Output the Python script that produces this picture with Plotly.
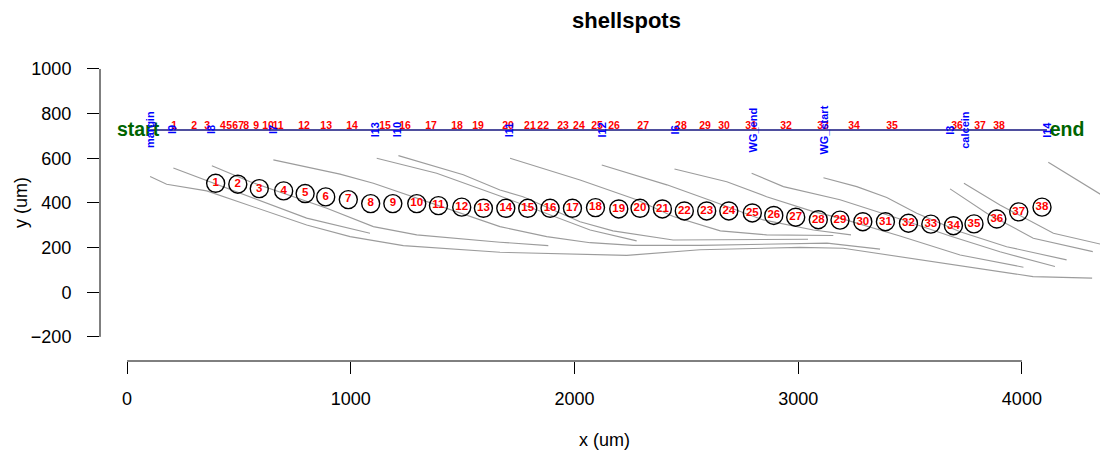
import plotly.graph_objects as go

FONT = "Liberation Sans, Arial, Helvetica, sans-serif"

# ---------------- axes ----------------
x_ticks = [0, 1000, 2000, 3000, 4000]
y_ticks = [-200, 0, 200, 400, 600, 800, 1000]
x_range = [-121, 4385]
y_range = [-308, 1085]

# ---------------- reference line (start -> end) ----------------
ref_line_y = 727
spot_label_y = 745
end_labels = ["start", "end"]
end_x = [49, 4202]
end_y = [722, 722]

# named marks on the reference line
mark_names = ["margin", "l9", "l8", "l7", "l13", "l10", "l11", "l12", "l6",
              "WG_end", "WG_start", "l3", "calcein", "l14"]
mark_x = [103, 201, 376, 653, 1110, 1208, 1709, 2121, 2447,
          2796, 3114, 3678, 3745, 4112]

# ---------------- spots ----------------
spot_ids = ["1", "2", "3", "4", "5", "6", "7", "8", "9", "10",
            "11", "12", "13", "14", "15", "16", "17", "18", "19", "20",
            "21", "22", "23", "24", "25", "26", "27", "28", "29", "30",
            "31", "32", "33", "34", "35", "36", "37", "38"]
spot_x = [396, 495, 591, 700, 796, 888, 989, 1089, 1188, 1295,
          1392, 1496, 1593, 1693, 1791, 1891, 1991, 2094, 2198, 2293,
          2393, 2491, 2591, 2690, 2795, 2891, 2989, 3090, 3187, 3289,
          3390, 3493, 3593, 3694, 3786, 3888, 3986, 4090]
spot_y = [488, 484, 464, 454, 442, 427, 415, 397, 397, 397,
          388, 381, 376, 376, 376, 376, 376, 379, 373, 376,
          373, 364, 364, 364, 355, 344, 336, 325, 323, 316,
          316, 309, 305, 298, 306, 328, 360, 381]
# spot positions projected on the reference line
spot_proj_x = [210, 300, 358, 429, 456, 483, 510, 532, 577, 630,
               675, 791, 890, 1006, 1153, 1243, 1359, 1475, 1569, 1703,
               1801, 1860, 1949, 2020, 2101, 2177, 2307, 2476, 2584, 2669,
               2789, 2946, 3111, 3250, 3420, 3710, 3813, 3898]

# ---------------- growth lines ----------------
gl_margin_x = [103, 177, 356, 624, 803, 997, 1235, 1667, 2234, 2561, 3008, 3201, 4050, 4314]
gl_margin_y = [518, 484, 454, 361, 301, 249, 209, 179, 165, 190, 201, 197, 70, 63]
gl_l9_x = [207, 653, 803, 1086]
gl_l9_y = [556, 391, 332, 264]
gl_l8_x = [379, 550, 893, 1101, 1295, 1667, 1883]
gl_l8_y = [567, 495, 376, 294, 257, 224, 209]
gl_l7_x = [654, 952, 1101, 1295, 1667, 1876, 2070, 2262, 2561, 3129, 3366]
gl_l7_y = [593, 529, 488, 421, 294, 249, 222, 210, 210, 220, 193]
gl_l13_x = [1116, 1384, 1667, 2070, 2278]
gl_l13_y = [600, 533, 431, 279, 230]
gl_l10_x = [1213, 1503, 1667, 1770, 2025, 2172, 2441, 3044]
gl_l10_y = [612, 526, 458, 428, 316, 275, 234, 237]
gl_l11_x = [1712, 2025, 2278, 2442, 2652, 2859, 3157]
gl_l11_y = [600, 503, 414, 339, 275, 257, 254]
gl_l12_x = [2122, 2413, 2621, 2844, 3068, 3236]
gl_l12_y = [570, 481, 406, 324, 279, 257]
gl_l6_x = [2447, 2681, 2859, 3068, 3187, 3455, 3724, 4007]
gl_l6_y = [552, 495, 428, 361, 332, 252, 167, 112]
gl_wgend_x = [2792, 2934, 3187, 3455, 3679, 3902, 4148]
gl_wgend_y = [533, 473, 414, 328, 252, 181, 115]
gl_wgstart_x = [3113, 3262, 3396, 3530, 3724, 3932, 4200]
gl_wgstart_y = [513, 473, 424, 354, 271, 204, 145]
gl_l3_x = [3679, 3843, 4051, 4317]
gl_l3_y = [463, 354, 242, 182]
gl_calcein_x = [3741, 3902, 4141, 4379]
gl_calcein_y = [488, 391, 264, 209]
gl_l14_x = [4118, 4379, 4483]
gl_l14_y = [582, 421, 358]

growth_lines = [
    (gl_margin_x, gl_margin_y), (gl_l9_x, gl_l9_y), (gl_l8_x, gl_l8_y),
    (gl_l7_x, gl_l7_y), (gl_l13_x, gl_l13_y), (gl_l10_x, gl_l10_y),
    (gl_l11_x, gl_l11_y), (gl_l12_x, gl_l12_y), (gl_l6_x, gl_l6_y),
    (gl_wgend_x, gl_wgend_y), (gl_wgstart_x, gl_wgstart_y),
    (gl_l3_x, gl_l3_y), (gl_calcein_x, gl_calcein_y), (gl_l14_x, gl_l14_y),
]

# figure size chosen to sit inside the page's default 8px body margin
FIG_W, FIG_H = 1100, 449

fig = go.Figure()

for gx, gy in growth_lines:
    fig.add_trace(go.Scatter(x=gx, y=gy, mode="lines",
                             line=dict(color="#9c9c9c", width=1.1),
                             hoverinfo="skip"))

# reference line
fig.add_trace(go.Scatter(x=[mark_x[0], mark_x[-1]], y=[ref_line_y, ref_line_y],
                         mode="lines", line=dict(color="#14147e", width=1.4),
                         hoverinfo="skip"))

# spot numbers along the reference line
fig.add_trace(go.Scatter(x=spot_proj_x, y=[spot_label_y] * len(spot_proj_x),
                         mode="text", text=spot_ids,
                         textfont=dict(family=FONT, size=10.5, color="red", weight="bold"),
                         textposition="middle center", hoverinfo="skip"))

# spots (open circles with numbers)
fig.add_trace(go.Scatter(x=spot_x, y=spot_y, mode="markers+text", text=spot_ids,
                         marker=dict(symbol="circle-open", size=18, color="black",
                                     line=dict(width=1.4)),
                         textfont=dict(family=FONT, size=11.5, color="red", weight="bold"),
                         textposition="middle center", hoverinfo="skip"))

# start / end labels
fig.add_trace(go.Scatter(x=end_x, y=end_y, mode="text", text=end_labels,
                         textfont=dict(family=FONT, size=19.5, color="#006400", weight="bold"),
                         textposition="middle center", hoverinfo="skip"))

annotations = []
for name, mx in zip(mark_names, mark_x):
    annotations.append(dict(x=mx, y=ref_line_y, xref="x", yref="y", text=name,
                            showarrow=False, textangle=-90,
                            font=dict(family=FONT, size=11, color="blue", weight="bold"),
                            xanchor="center", yanchor="middle"))

# axis titles
annotations.append(dict(x=0.5, y=0, xref="paper", yref="paper", text="x (um)",
                        showarrow=False, yshift=-79, yanchor="middle", xanchor="center",
                        font=dict(family=FONT, size=18, color="black")))
annotations.append(dict(x=0, y=(y_ticks[0] + y_ticks[-1]) / 2, xref="paper", yref="y",
                        text="y (um)", showarrow=False, textangle=-90, xshift=-79,
                        xanchor="center", yanchor="middle",
                        font=dict(family=FONT, size=18, color="black")))

shapes = [
    dict(type="line", xref="x", yref="paper", x0=x_ticks[0], x1=x_ticks[-1], y0=0, y1=0,
         line=dict(color="black", width=1)),
    dict(type="line", xref="paper", yref="y", x0=0, x1=0, y0=y_ticks[0], y1=y_ticks[-1],
         line=dict(color="black", width=1)),
]

fig.update_layout(
    width=FIG_W, height=FIG_H,
    margin=dict(l=92, r=0, t=42, b=96),
    plot_bgcolor="white", paper_bgcolor="white",
    showlegend=False,
    title=dict(text="<b>shellspots</b>", x=618.5 / FIG_W, xref="container", xanchor="center",
               y=1 - 12 / FIG_H, yref="container", yanchor="middle",
               font=dict(family=FONT, size=22, color="black")),
    xaxis=dict(range=x_range, tickvals=x_ticks, ticktext=[str(v) for v in x_ticks],
               ticks="outside", ticklen=12, tickwidth=1, tickcolor="black",
               showgrid=False, zeroline=False, showline=False,
               tickfont=dict(family=FONT, size=18, color="black"),
               ticklabelstandoff=9),
    yaxis=dict(range=y_range, tickvals=y_ticks,
               ticktext=["\u2212200" if v < 0 else str(v) for v in y_ticks],
               ticks="outside", ticklen=12, tickwidth=1, tickcolor="black",
               showgrid=False, zeroline=False, showline=False,
               tickfont=dict(family=FONT, size=18, color="black"),
               ticklabelstandoff=12),
    annotations=annotations,
    shapes=shapes,
)

fig.write_html("out.html")
